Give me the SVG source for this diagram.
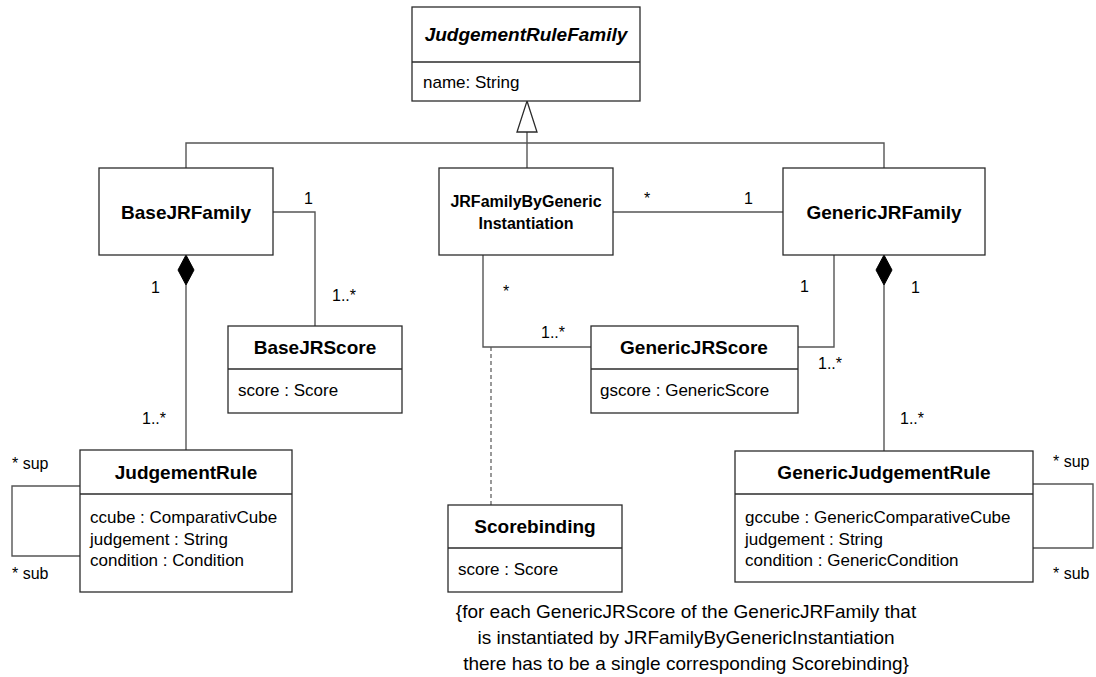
<svg xmlns="http://www.w3.org/2000/svg" width="1096" height="677" viewBox="0 0 1096 677">
  <style>
    .box { fill: #ffffff; stroke: #2b2b2b; stroke-width: 1.3; }
    .sep { stroke: #2b2b2b; stroke-width: 1.3; }
    .title { font-family: "Liberation Sans", Arial, sans-serif; font-weight: bold; font-size: 19px; fill: #000; text-anchor: middle; }
    .title2 { font-family: "Liberation Sans", Arial, sans-serif; font-weight: bold; font-size: 16px; fill: #000; text-anchor: middle; }
    .attr { font-family: "Liberation Sans", Arial, sans-serif; font-size: 17px; fill: #000; }
    .mult { font-family: "Liberation Sans", Arial, sans-serif; font-size: 16px; fill: #000; }
    .note { font-family: "Liberation Sans", Arial, sans-serif; font-size: 19px; fill: #000; text-anchor: middle; }
    .line { fill: none; stroke: #555555; stroke-width: 1.4; }
    .dash { fill: none; stroke: #555555; stroke-width: 1.2; stroke-dasharray: 4 3; }
    .diamond { fill: #000000; stroke: #000000; stroke-width: 1; }
    .hollow { fill: #ffffff; stroke: #2b2b2b; stroke-width: 1.3; }
  </style>

  <!-- connectors -->
  <g id="connectors">
    <!-- generalization tree -->
    <polyline class="line" points="186,168 186,143 884,143 884,168"/>
    <line class="line" x1="527" y1="132" x2="527" y2="168"/>
    <polygon class="hollow" points="527,101 537,132 517,132"/>
    <!-- BaseJRFamily - BaseJRScore -->
    <polyline class="line" points="273,212 315,212 315,326"/>
    <!-- BaseJRFamily composition JudgementRule -->
    <line class="line" x1="186" y1="285" x2="186" y2="450"/>
    <polygon class="diamond" points="186,255 194,270 186,285 178,270"/>
    <!-- JudgementRule self association -->
    <polyline class="line" points="80,486 12,486 12,556 80,556"/>
    <!-- JRFamilyByGenericInstantiation - GenericJRFamily -->
    <line class="line" x1="613" y1="212" x2="783" y2="212"/>
    <!-- JRFamilyByGenericInstantiation - GenericJRScore -->
    <polyline class="line" points="483,255 483,347 591,347"/>
    <!-- association class link to Scorebinding -->
    <line class="dash" x1="491" y1="347" x2="491" y2="505"/>
    <!-- GenericJRFamily - GenericJRScore -->
    <polyline class="line" points="834,255 834,347 798,347"/>
    <!-- GenericJRFamily composition GenericJudgementRule -->
    <line class="line" x1="884" y1="285" x2="884" y2="451"/>
    <polygon class="diamond" points="884,255 892,270 884,285 876,270"/>
    <!-- GenericJudgementRule self association -->
    <polyline class="line" points="1033,484 1093,484 1093,548 1033,548"/>

    <!-- multiplicities -->
    <text class="mult" x="304" y="204">1</text>
    <text class="mult" x="332" y="301">1..*</text>
    <text class="mult" x="151" y="293">1</text>
    <text class="mult" x="142" y="424">1..*</text>
    <text class="mult" x="12" y="469">* sup</text>
    <text class="mult" x="12" y="579">* sub</text>
    <text class="mult" x="644" y="204">*</text>
    <text class="mult" x="744" y="204">1</text>
    <text class="mult" x="503" y="297">*</text>
    <text class="mult" x="800" y="292">1</text>
    <text class="mult" x="541" y="338">1..*</text>
    <text class="mult" x="818" y="369">1..*</text>
    <text class="mult" x="911" y="293">1</text>
    <text class="mult" x="900" y="424">1..*</text>
    <text class="mult" x="1053" y="467">* sup</text>
    <text class="mult" x="1053" y="579">* sub</text>
  </g>

  <!-- classes -->
  <g id="JudgementRuleFamily">
    <rect class="box" x="412" y="7" width="228" height="94"/>
    <line class="sep" x1="412" y1="62" x2="640" y2="62"/>
    <text class="title" x="526" y="41" font-style="italic">JudgementRuleFamily</text>
    <text class="attr" x="423" y="88">name: String</text>
  </g>

  <g id="BaseJRFamily">
    <rect class="box" x="99" y="168" width="174" height="87"/>
    <text class="title" x="186" y="219">BaseJRFamily</text>
  </g>

  <g id="JRFamilyByGenericInstantiation">
    <rect class="box" x="439" y="168" width="174" height="87"/>
    <text class="title2" x="526" y="207">JRFamilyByGeneric</text>
    <text class="title2" x="526" y="229">Instantiation</text>
  </g>

  <g id="GenericJRFamily">
    <rect class="box" x="783" y="168" width="202" height="87"/>
    <text class="title" x="884" y="219">GenericJRFamily</text>
  </g>

  <g id="BaseJRScore">
    <rect class="box" x="228" y="326" width="174" height="87"/>
    <line class="sep" x1="228" y1="369" x2="402" y2="369"/>
    <text class="title" x="315" y="354">BaseJRScore</text>
    <text class="attr" x="238" y="396">score : Score</text>
  </g>

  <g id="GenericJRScore">
    <rect class="box" x="591" y="326" width="207" height="87"/>
    <line class="sep" x1="591" y1="369" x2="798" y2="369"/>
    <text class="title" x="694" y="354">GenericJRScore</text>
    <text class="attr" x="600" y="396">gscore : GenericScore</text>
  </g>

  <g id="JudgementRule">
    <rect class="box" x="80" y="450" width="212" height="142"/>
    <line class="sep" x1="80" y1="494" x2="292" y2="494"/>
    <text class="title" x="186" y="479">JudgementRule</text>
    <text class="attr" x="90" y="523">ccube : ComparativCube</text>
    <text class="attr" x="90" y="544.5">judgement : String</text>
    <text class="attr" x="90" y="566">condition : Condition</text>
  </g>

  <g id="Scorebinding">
    <rect class="box" x="448" y="505" width="174" height="87"/>
    <line class="sep" x1="448" y1="548" x2="622" y2="548"/>
    <text class="title" x="535" y="533">Scorebinding</text>
    <text class="attr" x="458" y="575">score : Score</text>
  </g>

  <g id="GenericJudgementRule">
    <rect class="box" x="735" y="451" width="298" height="131"/>
    <line class="sep" x1="735" y1="494" x2="1033" y2="494"/>
    <text class="title" x="884" y="479">GenericJudgementRule</text>
    <text class="attr" x="745" y="523">gccube : GenericComparativeCube</text>
    <text class="attr" x="745" y="544.5">judgement : String</text>
    <text class="attr" x="745" y="566">condition : GenericCondition</text>
  </g>

  <!-- constraint note -->
  <g id="constraint">
    <text class="note" x="686" y="618">{for each GenericJRScore of the GenericJRFamily that</text>
    <text class="note" x="686" y="644">is instantiated by JRFamilyByGenericInstantiation</text>
    <text class="note" x="686" y="670">there has to be a single corresponding Scorebinding}</text>
  </g>
</svg>
